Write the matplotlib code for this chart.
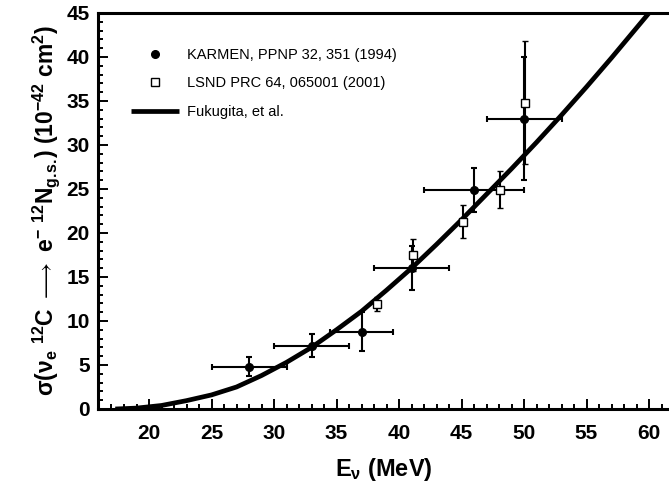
import numpy as np
import matplotlib
matplotlib.use("Agg")
import matplotlib.pyplot as plt
from matplotlib.ticker import MultipleLocator
from matplotlib.lines import Line2D

plt.rcParams['font.family'] = ['Liberation Sans', 'DejaVu Sans']
plt.rcParams['mathtext.fontset'] = 'custom'
plt.rcParams['mathtext.rm'] = 'Liberation Sans:bold'
plt.rcParams['mathtext.it'] = 'Liberation Sans:bold'
plt.rcParams['mathtext.bf'] = 'Liberation Sans:bold'
plt.rcParams['mathtext.fallback'] = 'stixsans'
plt.rcParams['mathtext.default'] = 'rm'

# KARMEN points (filled circles)
karmen_E = [28, 33, 37, 41, 46, 50]
karmen_sig = [4.8, 7.2, 8.8, 16.0, 24.9, 33.0]
karmen_dE = [3, 3, 2.5, 3, 4, 3]
karmen_dsig = [1.1, 1.3, 2.2, 2.5, 2.5, 7.0]

# LSND points (open squares)
lsnd_E = [38.2, 41.1, 45.1, 48.1, 50.1]
lsnd_sig = [11.9, 17.5, 21.3, 24.9, 34.8]
lsnd_dsig = [0.8, 1.8, 1.9, 2.1, 7.0]

# Fukugita et al. curve
fuk_E = [17.3, 19, 21, 23, 25, 27, 29, 31, 33, 35, 37, 39, 41, 43, 45,
         47, 49, 51, 53, 55, 57, 59, 60, 61]
fuk_sig = [0.0, 0.1, 0.4, 0.95, 1.6, 2.5, 3.8, 5.3, 7.0, 9.0, 11.1, 13.5,
           16.0, 18.7, 21.5, 24.4, 27.3, 30.3, 33.4, 36.6, 39.9, 43.3, 45.0,
           46.7]

fig = plt.figure(figsize=(6.69, 4.84), dpi=100)
ax = fig.add_axes([98/669, 75/484, 571/669, 396/484])

ax.plot(fuk_E, fuk_sig, color='black', lw=3.4, solid_capstyle='butt',
        solid_joinstyle='round', zorder=3)
ax.errorbar(karmen_E, karmen_sig, xerr=karmen_dE, yerr=karmen_dsig,
            fmt='o', color='black', ms=5.5, elinewidth=1.5, capsize=2.5,
            capthick=1.5, zorder=4)
ax.errorbar(lsnd_E, lsnd_sig, yerr=lsnd_dsig, fmt='s', color='black',
            mfc='white', mec='black', mew=1.0, ms=6, elinewidth=1.5,
            capsize=2.5, capthick=1.5, zorder=5)

ax.set_xlim(20 - (149 - 98)/12.5, 20 + (669 - 149)/12.5)
ax.set_ylim(0, 45)

ax.xaxis.set_major_locator(MultipleLocator(5))
ax.xaxis.set_minor_locator(MultipleLocator(1))
ax.yaxis.set_major_locator(MultipleLocator(5))
ax.yaxis.set_minor_locator(MultipleLocator(1))
ax.tick_params(which='both', direction='in', top=False, right=False, width=1.4)
ax.tick_params(which='major', length=7, labelsize=15)
ax.tick_params(which='minor', length=3.5)
ax.tick_params(axis='x', which='major', pad=11)
ax.tick_params(axis='y', which='major', pad=6)
for lab in ax.get_xticklabels() + ax.get_yticklabels():
    lab.set_fontweight('bold')

for s in ['left', 'bottom', 'top']:
    ax.spines[s].set_linewidth(2.2)
ax.spines['right'].set_visible(False)

ax.set_xlabel(r'E$_{\nu}$ (MeV)', fontsize=17, fontweight='bold', labelpad=9)
ax.set_ylabel(r'σ(ν$_{e}$ $^{12}$C $\longrightarrow$ e$^{-}$ $^{12}$N$_{g.\!s.\!}$) (10$^{-42}$ cm$^{2}$)',
              fontsize=16.5, fontweight='bold', labelpad=3)

handles = [
    Line2D([], [], ls='none', marker='o', color='black', ms=5.5),
    Line2D([], [], ls='none', marker='s', mfc='white', mec='black', mew=1.0, ms=6),
    Line2D([], [], color='black', lw=3.4, solid_capstyle='butt'),
]
labels = ['KARMEN, PPNP 32, 351 (1994)', 'LSND PRC 64, 065001 (2001)',
          'Fukugita, et al.']
ax.legend(handles, labels, loc='upper left', bbox_to_anchor=(0.035, 0.945),
          frameon=False, fontsize=10.5, handlelength=3.3, labelspacing=1.0,
          handletextpad=0.55)

fig.savefig('out.png', dpi=100)
